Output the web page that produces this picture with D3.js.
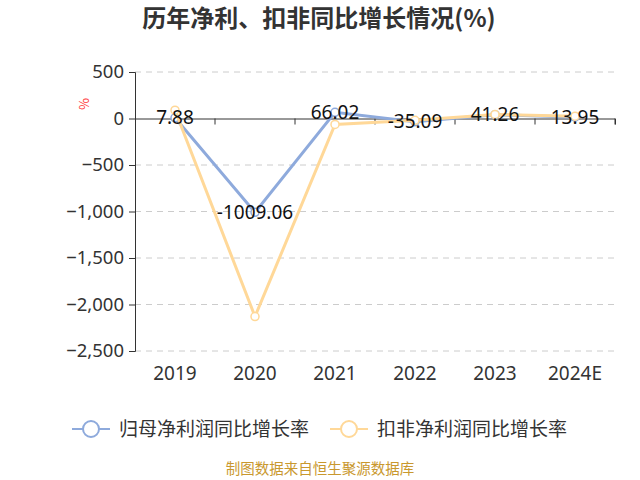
<!DOCTYPE html>
<html>
<head>
<meta charset="utf-8">
<script src="https://cdn.jsdelivr.net/npm/d3@7/dist/d3.min.js"></script>
<style>
  body { margin: 0; background: #fff; }
  text { font-family: "Noto Sans CJK SC", "Noto Sans", sans-serif; }
</style>
</head>
<body>
<div id="chart"></div>
<script>
var years = ["2019", "2020", "2021", "2022", "2023", "2024E"];
var guimu = [7.88, -1009.06, 66.02, -35.09, 41.26, 13.95];
var koufei = [89, -2130, -64, -20, 43, 25];
var yTicks = [500, 0, -500, -1000, -1500, -2000, -2500];
var seriesNames = ["归母净利润同比增长率", "扣非净利润同比增长率"];
var colors = ["#8eaadc", "#ffd898"];

var width = 640, height = 480;
var margin = {top: 72, right: 25, bottom: 128, left: 135};

var svg = d3.select("#chart").append("svg")
    .attr("width", width)
    .attr("height", height);

var x = d3.scaleBand().domain(years).range([margin.left, width - margin.right]);
var y = d3.scaleLinear().domain([-2500, 500]).range([height - margin.bottom - 1, margin.top]);

// title
svg.append("text")
    .attr("x", 319).attr("y", 27)
    .attr("text-anchor", "middle")
    .style("font-size", "24px").style("font-weight", "bold").style("fill", "#333")
    .text("历年净利、扣非同比增长情况(%)");

// grid
svg.append("g").selectAll("line")
    .data(yTicks.filter(function(d){ return d !== 0; }))
    .enter().append("line")
    .attr("x1", margin.left).attr("x2", width - margin.right)
    .attr("y1", function(d){ return y(d); }).attr("y2", function(d){ return y(d); })
    .style("stroke", "#ccc").style("stroke-dasharray", "6,5");

// Y axis
var yAxis = d3.axisLeft(y).tickValues(yTicks).tickSize(6).tickPadding(5)
    .tickFormat(d3.format(","));
var gy = svg.append("g").attr("transform", "translate(" + margin.left + ",0)").call(yAxis);
gy.select(".domain").style("stroke", "#333");
gy.selectAll(".tick line").style("stroke", "#333");
gy.selectAll("text").style("font-size", "18.5px").style("fill", "#333")
    .style("font-family", "'Noto Sans', sans-serif");

// X axis at zero
var xAxis = d3.axisBottom(x).tickSize(6).tickFormat("");
var gx = svg.append("g").attr("transform", "translate(0," + y(0) + ")").call(xAxis);
gx.select(".domain").style("stroke", "#333");
gx.selectAll(".tick line")
    .attr("x1", x.bandwidth() / 2).attr("x2", x.bandwidth() / 2)
    .style("stroke", "#333");
gx.append("line").attr("x1", x.range()[0] + 0.5).attr("x2", x.range()[0] + 0.5)
    .attr("y1", 0).attr("y2", 6).style("stroke", "#333");

// x labels at bottom
svg.append("g").selectAll("text")
    .data(years).enter().append("text")
    .attr("x", function(d){ return x(d) + x.bandwidth() / 2; })
    .attr("y", 380)
    .attr("text-anchor", "middle")
    .style("font-size", "19px").style("fill", "#333")
    .style("font-family", "'Noto Sans', sans-serif")
    .text(function(d){ return d; });

// unit
svg.append("text")
    .attr("transform", "translate(89,104) rotate(-90)")
    .attr("text-anchor", "middle")
    .style("font-size", "13px").style("fill", "#f33")
    .text("%");

var line = d3.line()
    .x(function(d, i){ return x(years[i]) + x.bandwidth() / 2; })
    .y(function(d){ return y(d); });

[guimu, koufei].forEach(function(s, k) {
    svg.append("path").datum(s)
        .attr("d", line)
        .style("fill", "none").style("stroke", colors[k]).style("stroke-width", 3);
    svg.append("g").selectAll("circle")
        .data(s).enter().append("circle")
        .attr("cx", function(d, i){ return x(years[i]) + x.bandwidth() / 2; })
        .attr("cy", function(d){ return y(d); })
        .attr("r", 4)
        .style("fill", "#fff").style("stroke", colors[k]).style("stroke-width", 1.5);
});

// value labels
svg.append("g").selectAll("text")
    .data(guimu).enter().append("text")
    .attr("x", function(d, i){ return x(years[i]) + x.bandwidth() / 2; })
    .attr("y", function(d){ return y(d); })
    .attr("dy", "0.35em")
    .attr("text-anchor", "middle")
    .style("font-size", "19px").style("fill", "#111")
    .style("font-family", "'Noto Sans', sans-serif")
    .text(function(d){ return d.toFixed(2); });

// legend
var legend = svg.append("g");
var lx = [72, 330];
seriesNames.forEach(function(name, k) {
    var g = legend.append("g").attr("transform", "translate(" + lx[k] + ",429)");
    g.append("line").attr("x1", 0).attr("x2", 38).attr("y1", 0).attr("y2", 0)
        .style("stroke", colors[k]).style("stroke-width", 2);
    g.append("circle").attr("cx", 19).attr("cy", 0).attr("r", 8)
        .style("fill", "#fff").style("stroke", colors[k]).style("stroke-width", 2);
    g.append("text").attr("x", 47).attr("y", 0).attr("dy", "0.35em")
        .style("font-size", "19px").style("fill", "#333")
        .text(name);
});

// source
svg.append("text")
    .attr("x", 320).attr("y", 474)
    .attr("text-anchor", "middle")
    .style("font-size", "14.5px").style("fill", "#c9982e")
    .text("制图数据来自恒生聚源数据库");
</script>
</body>
</html>
